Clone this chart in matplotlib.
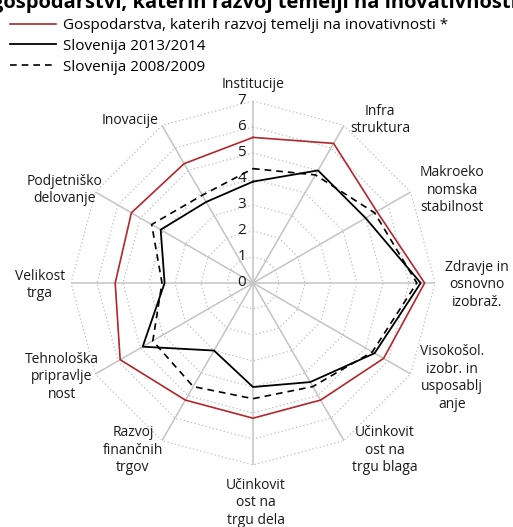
import numpy as np
import matplotlib.pyplot as plt

plt.rcParams['font.family'] = ['Open Sans', 'DejaVu Sans']

# stebri indeksa konkurenčnosti (od vrha, v smeri urinega kazalca)
kategorije = ['Institucije', 'Infra\nstruktura', 'Makroeko\nnomska\nstabilnost',
              'Zdravje in\nosnovno\nizobraž.', 'Visokošol.\nizobr. in\nusposablj\nanje',
              'Učinkovit\nost na\ntrgu blaga', 'Učinkovit\nost na\ntrgu dela',
              'Razvoj\nfinančnih\ntrgov', 'Tehnološka\npripravlje\nnost',
              'Velikost\ntrga', 'Podjetniško\ndelovanje', 'Inovacije']

inovativna = [5.6, 6.2, 5.5, 6.6, 5.8, 5.2, 5.2, 5.2, 5.9, 5.3, 5.4, 5.3]
slo_2013 = [3.9, 5.0, 5.0, 6.45, 5.4, 4.4, 4.0, 3.0, 4.9, 3.4, 4.1, 3.6]
slo_2008 = [4.4, 4.8, 5.4, 6.3, 5.3, 4.6, 4.45, 4.6, 4.45, 3.5, 4.5, 3.9]

legenda = ['Gospodarstva, katerih razvoj temelji na inovativnosti *',
           'Slovenija 2013/2014', 'Slovenija 2008/2009']

# središča napisov kategorij v pikslih (x, y od vrha)
napisi_px = [(253, 85), (380, 120), (452, 190), (477, 285), (452, 378), (385, 450),
             (256, 503), (133, 450), (62, 377), (40, 285), (65, 190), (130, 120)]

W, H = 513, 527
cx, cy = 253, 283
R = 182  # polmer za vrednost 7

fig = plt.figure(figsize=(W / 100, H / 100), dpi=100)
ax = fig.add_axes([(cx - R) / W, (H - cy - R) / H, 2 * R / W, 2 * R / H], polar=True)
ax.set_theta_zero_location('N')
ax.set_theta_direction(-1)
ax.set_ylim(0, 7)
ax.axis('off')

n = len(kategorije)
kot = np.linspace(0, 2 * np.pi, n, endpoint=False)
kot_zaprt = np.append(kot, kot[0])

# mreža: pikčasti mnogokotniki in polni žarki
for r in range(1, 8):
    ax.plot(kot_zaprt, [r] * (n + 1), color='#bdbdbd', lw=0.9, ls=(0, (1, 2)), zorder=1)
for k in kot:
    ax.plot([k, k], [0, 7], color='#c4c4c4', lw=1.1, zorder=1, solid_capstyle='butt')

# oznake osi 0–7 levo od navpičnega žarka
for r in range(0, 8):
    ax.annotate(str(r), xy=(0, r), xytext=(-5, 0), textcoords='offset points',
                ha='right', va='center', fontsize=11, color='#1a1a1a')

def zapri(v):
    return list(v) + [v[0]]

l1, = ax.plot(kot_zaprt, zapri(inovativna), color='#b3262b', lw=1.2, zorder=3)
l2, = ax.plot(kot_zaprt, zapri(slo_2013), color='black', lw=1.3, zorder=4)
l3, = ax.plot(kot_zaprt, zapri(slo_2008), color='black', lw=1.2, ls=(0, (4, 3)), zorder=3)

# napisi kategorij
for ime, (px, py) in zip(kategorije, napisi_px):
    fig.text(px / W, 1 - py / H, ime, ha='center', va='center', fontsize=10,
             linespacing=1.25, color='#1a1a1a')

fig.text(-8 / W, 1 - 8 / H, 'gospodarstvi, katerih razvoj temelji na inovativnosti',
         ha='left', va='baseline', fontsize=14.5, fontweight='bold')

fig.legend([l1, l2, l3], legenda, loc='upper left', bbox_to_anchor=(10 / W, 1 - 18 / H),
           frameon=False, fontsize=11, handlelength=3.0, handletextpad=0.5,
           labelspacing=0.38, borderaxespad=0, borderpad=0)

fig.savefig('out.png', dpi=100)
